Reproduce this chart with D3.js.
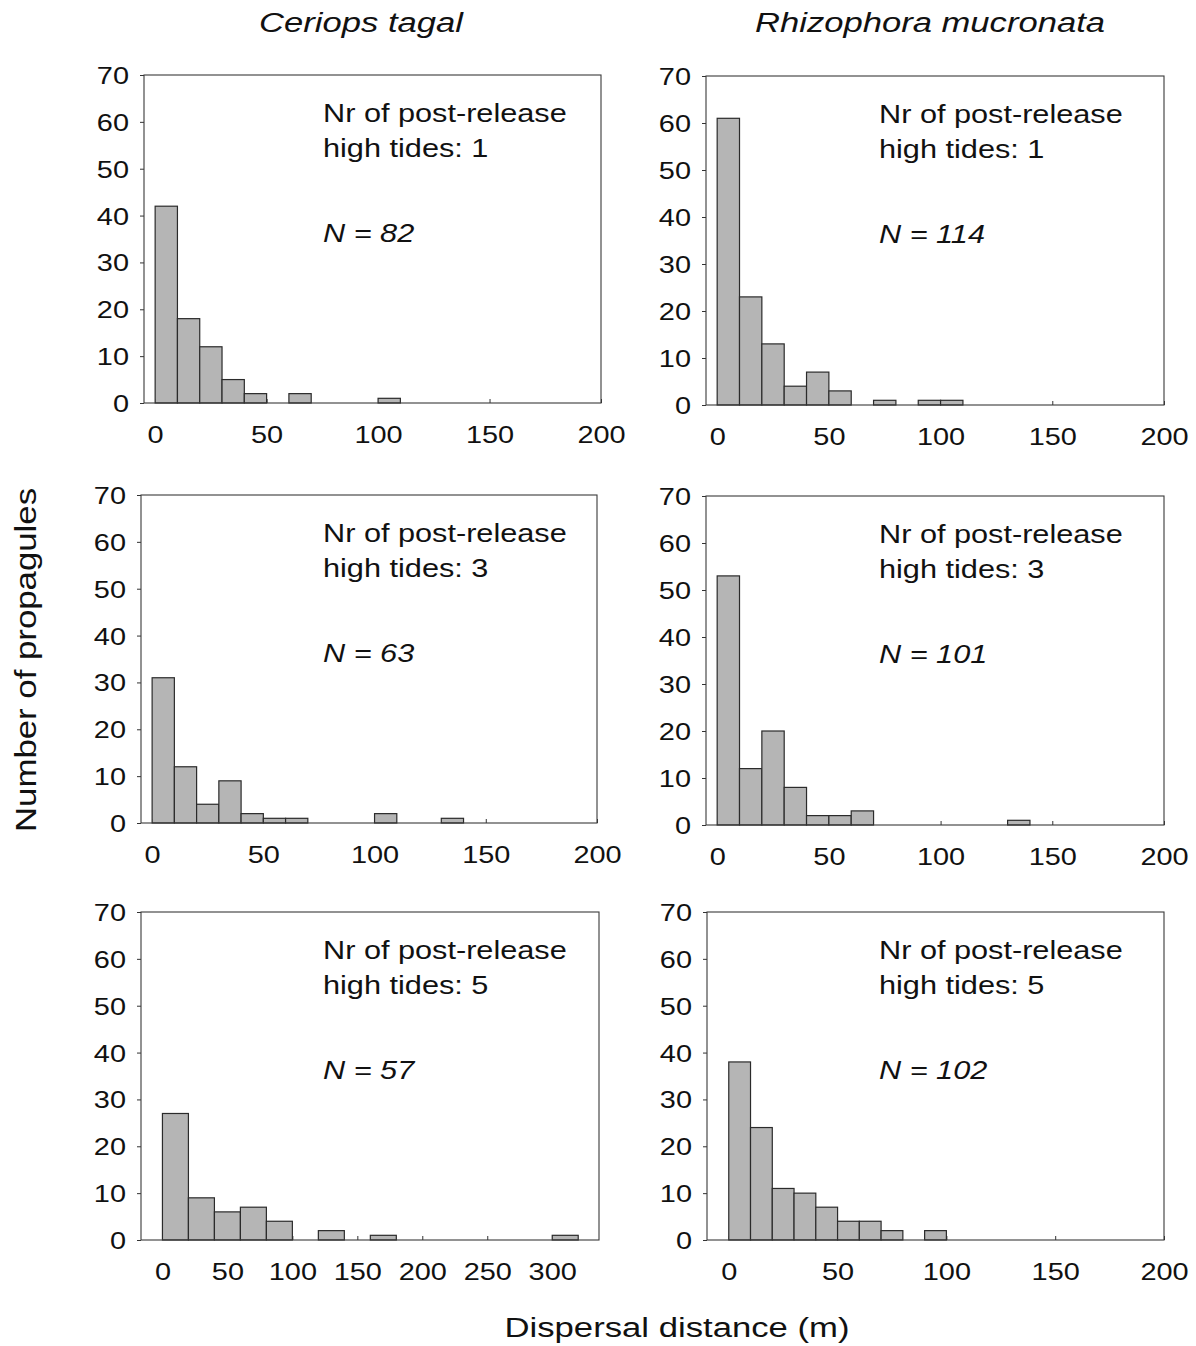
<!DOCTYPE html>
<html>
<head>
<meta charset="utf-8">
<script src="https://cdn.jsdelivr.net/npm/d3@7"></script>
<style>
  body { margin: 0; background: #fff; }
  svg { display: block; }
</style>
</head>
<body>
<svg id="chart" width="1196" height="1346"></svg>
<script>
// Propagule counts per distance bin (bins start at 0 m)
const ceriopsTide1 = [42, 18, 12, 5, 2, 0, 2, 0, 0, 0, 1];
const ceriopsTide3 = [31, 12, 4, 9, 2, 1, 1, 0, 0, 0, 2, 0, 0, 1];
const ceriopsTide5 = [27, 9, 6, 7, 4, 0, 2, 0, 1, 0, 0, 0, 0, 0, 0, 1];
const rhizoTide1   = [61, 23, 13, 4, 7, 3, 0, 1, 0, 1, 1];
const rhizoTide3   = [53, 12, 20, 8, 2, 2, 3, 0, 0, 0, 0, 0, 0, 1];
const rhizoTide5   = [38, 24, 11, 10, 7, 4, 4, 2, 0, 2];

// Bin width (m) of each histogram
const binWidthCeriops = [10, 10, 20];
const binWidthRhizo   = [10, 10, 10];

const species     = ["Ceriops tagal", "Rhizophora mucronata"];
const tideCounts  = [1, 3, 5];
const sampleSizes = [[82, 114], [63, 101], [57, 102]];

const yTicks      = [0, 10, 20, 30, 40, 50, 60, 70];
const xTicks200   = [0, 50, 100, 150, 200];
const xTicks300   = [0, 50, 100, 150, 200, 250, 300];

const xDomains = [
  [[-5, 200], [-5, 200]],
  [[-5, 200], [-5, 200]],
  [[-16.5, 336], [-10, 200]]
];

// Plot frames: [left, top, right, bottom]
const frames = [
  [[144, 75, 601, 403], [706, 76, 1164, 405]],
  [[141, 495, 597, 823], [706, 496, 1164, 825]],
  [[141, 912, 599, 1240], [707, 912, 1164, 1240]]
];
const noteX = [323, 879];

const FONT = "'Liberation Sans', Arial, Helvetica, sans-serif";
const svg = d3.select("#chart");
svg.append("rect").attr("width", 1196).attr("height", 1346).attr("fill", "#fff");

// Text drawn with a slight horizontal stretch
function wideText(parent, x, y, str, size, sx, opts = {}) {
  const g = parent.append("g").attr("transform", `translate(${x},${y})`);
  g.append("text")
    .attr("transform", `scale(${sx},1)`)
    .attr("font-family", FONT)
    .attr("font-size", size)
    .attr("fill", "#111")
    .attr("text-anchor", opts.anchor || "start")
    .attr("font-style", opts.italic ? "italic" : "normal")
    .text(str);
  return g;
}

const countsGrid = [
  [ceriopsTide1, rhizoTide1],
  [ceriopsTide3, rhizoTide3],
  [ceriopsTide5, rhizoTide5]
];
const binGrid = [0, 1, 2].map(r => [binWidthCeriops[r], binWidthRhizo[r]]);

const TICK_SX = 1.23;
const TICK_FS = 23.5;

for (let r = 0; r < 3; r++) {
  for (let c = 0; c < 2; c++) {
    const [L, T, R, B] = frames[r][c];
    const counts = countsGrid[r][c];
    const bw = binGrid[r][c];
    const x = d3.scaleLinear().domain(xDomains[r][c]).range([L, R]);
    const y = d3.scaleLinear().domain([0, 70]).range([B, T]);
    const panel = svg.append("g");

    // y axis: ticks outward on the left
    const yAx = panel.append("g")
      .attr("transform", `translate(${L},0)`)
      .call(d3.axisLeft(y).tickValues(yTicks).tickSize(4).tickSizeOuter(0));
    yAx.select(".domain").remove();
    yAx.selectAll(".tick line").attr("stroke", "#333");
    yAx.selectAll(".tick text")
      .attr("font-family", FONT).attr("font-size", TICK_FS).attr("fill", "#111")
      .attr("x", -15 / TICK_SX).attr("dy", "0.36em")
      .attr("transform", `scale(${TICK_SX},1)`);

    // x axis: ticks inward
    const xTicks = (r === 2 && c === 0) ? xTicks300 : xTicks200;
    const xAx = panel.append("g")
      .attr("transform", `translate(0,${B})`)
      .call(d3.axisBottom(x).tickValues(xTicks).tickSize(-4).tickSizeOuter(0).tickPadding(23));
    xAx.select(".domain").remove();
    xAx.selectAll(".tick line").attr("stroke", "#333");
    xAx.selectAll(".tick text")
      .attr("font-family", FONT).attr("font-size", TICK_FS).attr("fill", "#111")
      .attr("transform", `scale(${TICK_SX},1)`);

    // histogram bars
    const bins = counts.map((v, i) => ({ x0: i * bw, x1: (i + 1) * bw, v }))
      .filter(d => d.v > 0);
    panel.append("g").selectAll("rect").data(bins).join("rect")
      .attr("x", d => x(d.x0))
      .attr("width", d => x(d.x1) - x(d.x0))
      .attr("y", d => y(d.v))
      .attr("height", d => y(0) - y(d.v))
      .attr("fill", "#b5b5b5")
      .attr("stroke", "#2b2b2b")
      .attr("stroke-width", 1.2);

    // frame
    panel.append("rect")
      .attr("x", L).attr("y", T).attr("width", R - L).attr("height", B - T)
      .attr("fill", "none").attr("stroke", "#3a3a3a").attr("stroke-width", 1.1);

    // annotations
    const nx = noteX[c];
    wideText(panel, nx, T + 47, "Nr of post-release", 26, 1.18);
    wideText(panel, nx, T + 82, `high tides: ${tideCounts[r]}`, 26, 1.18);
    wideText(panel, nx, T + 167, `N = ${sampleSizes[r][c]}`, 26, 1.18, { italic: true });
  }
}

// species titles
wideText(svg, 361, 32, species[0], 28, 1.236, { anchor: "middle", italic: true });
wideText(svg, 930, 32, species[1], 28, 1.236, { anchor: "middle", italic: true });

// axis titles
wideText(svg, 677, 1337, "Dispersal distance (m)", 28, 1.24, { anchor: "middle" });
const yTitle = svg.append("g").attr("transform", "translate(35.5,660) rotate(-90)");
yTitle.append("text")
  .attr("transform", "scale(1.16,1)")
  .attr("font-family", FONT).attr("font-size", 30).attr("fill", "#111")
  .attr("text-anchor", "middle")
  .text("Number of propagules");
</script>
</body>
</html>
